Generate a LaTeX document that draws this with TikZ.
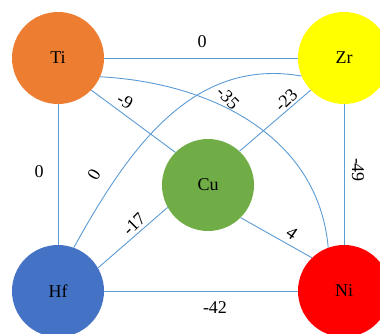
\documentclass[tikz,border=0pt]{standalone}
\usepackage{fontspec}
\setmainfont{Liberation Serif}
\usepackage{xcolor}
\usepackage{tikz}
\definecolor{tiorange}{HTML}{ED7D31}
\definecolor{zryellow}{HTML}{FFFF00}
\definecolor{cugreen}{HTML}{70AD47}
\definecolor{hfblue}{HTML}{4472C4}
\definecolor{nired}{HTML}{FF0000}
\definecolor{edge}{HTML}{5B9BD5}

\begin{document}
\begin{tikzpicture}[
  x=1pt, y=1pt,
  font=\fontsize{18}{20}\selectfont,
  atom/.style={circle, minimum size=92pt, inner sep=0pt},
  bond/.style={draw=edge, line width=0.9pt},
  val/.style={inner sep=1pt}
]
\clip (0,0) rectangle (380,333);
% atoms
\node[atom, fill=tiorange] (ti) at (58,275) {Ti};
\node[atom, fill=zryellow] (zr) at (344,275) {Zr};
\node[atom, fill=cugreen] (cu) at (208,148) {Cu};
\node[atom, fill=hfblue] (hf) at (58,42) {Hf};
\node[atom, fill=nired] (ni) at (344,42) {Ni};
% bonds
\draw[bond] (ti) -- (zr);
\draw[bond] (ti) -- (hf);
\draw[bond] (zr) -- (ni);
\draw[bond] (hf) -- (ni);
\draw[bond] (ti.-44) -- (cu.135);
\draw[bond] (cu.47) -- (zr.224);
\draw[bond] (hf.30) -- (cu.209);
\draw[bond] (cu.315) -- (ni.134);
\draw[bond] (ti.-24) to[out=-3, in=95] (ni.110);
\draw[bond] (hf.70) to[out=61, in=170] (zr.203);
% values
\node[val] (tizr) at (202,291) {0};
\node[val] (tihf) at (39,161) {0};
\node[val, rotate=-90] (zrni) at (358,163) {-49};
\node[val] (hfni) at (215,25) {-42};
\node[val, rotate=-30] (ticu) at (125,232) {-9};
\node[val, rotate=-45] (tini) at (228,235) {-35};
\node[val, rotate=45] (cuzr) at (286,233) {-23};
\node[val, rotate=60] (hfzr) at (94,158) {0};
\node[val, rotate=45] (hfcu) at (134,109) {-17};
\node[val, rotate=-35] (cuni) at (292,100) {4};
\end{tikzpicture}
\end{document}
